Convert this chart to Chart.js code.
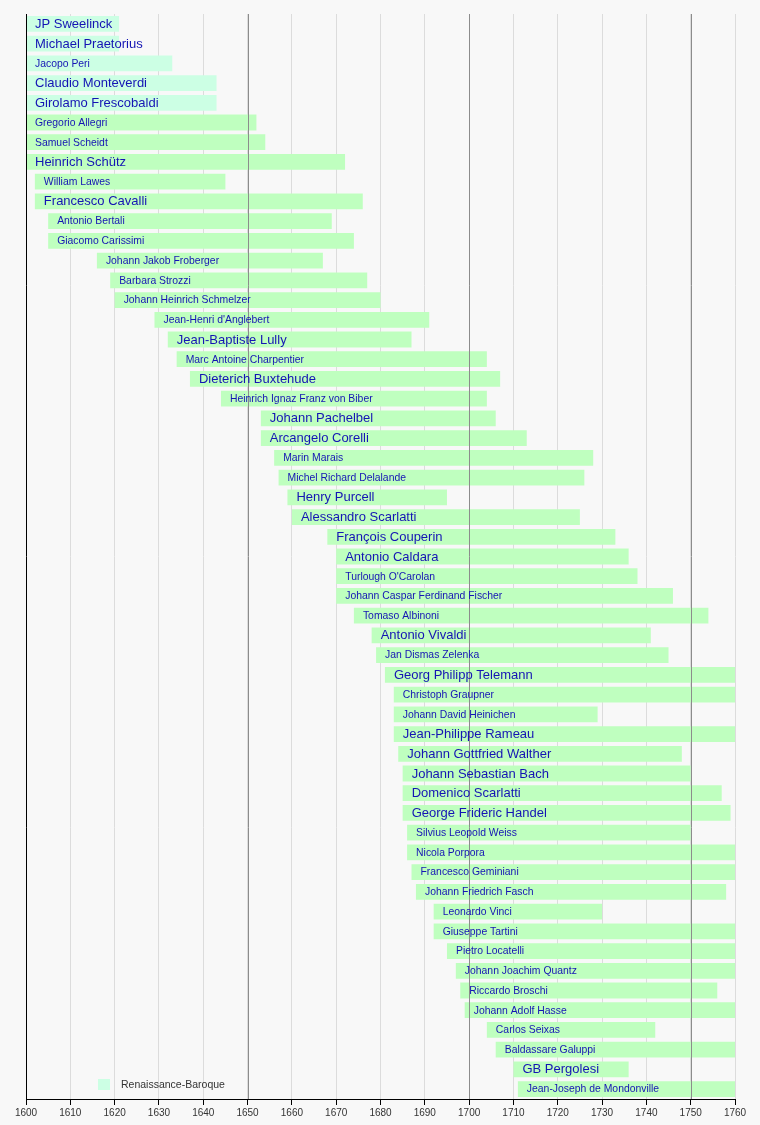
<!DOCTYPE html>
<html>
<head>
<meta charset="utf-8">
<script src="https://cdn.jsdelivr.net/npm/chart.js@4.4.1/dist/chart.umd.min.js"></script>
<style>
  html, body { margin: 0; padding: 0; background: #f8f8f8; }
  #wrap { width: 760px; height: 1125px; position: relative; }
</style>
</head>
<body>
<div id="wrap"><canvas id="c" width="760" height="1125"></canvas></div>
<script>
const composers = [
  "JP Sweelinck", "Michael Praetorius", "Jacopo Peri", "Claudio Monteverdi", "Girolamo Frescobaldi",
  "Gregorio Allegri", "Samuel Scheidt", "Heinrich Schütz", "William Lawes", "Francesco Cavalli",
  "Antonio Bertali", "Giacomo Carissimi", "Johann Jakob Froberger", "Barbara Strozzi", "Johann Heinrich Schmelzer",
  "Jean-Henri d'Anglebert", "Jean-Baptiste Lully", "Marc Antoine Charpentier", "Dieterich Buxtehude", "Heinrich Ignaz Franz von Biber",
  "Johann Pachelbel", "Arcangelo Corelli", "Marin Marais", "Michel Richard Delalande", "Henry Purcell",
  "Alessandro Scarlatti", "François Couperin", "Antonio Caldara", "Turlough O'Carolan", "Johann Caspar Ferdinand Fischer",
  "Tomaso Albinoni", "Antonio Vivaldi", "Jan Dismas Zelenka", "Georg Philipp Telemann", "Christoph Graupner",
  "Johann David Heinichen", "Jean-Philippe Rameau", "Johann Gottfried Walther", "Johann Sebastian Bach", "Domenico Scarlatti",
  "George Frideric Handel", "Silvius Leopold Weiss", "Nicola Porpora", "Francesco Geminiani", "Johann Friedrich Fasch",
  "Leonardo Vinci", "Giuseppe Tartini", "Pietro Locatelli", "Johann Joachim Quantz", "Riccardo Broschi",
  "Johann Adolf Hasse", "Carlos Seixas", "Baldassare Galuppi", "GB Pergolesi", "Jean-Joseph de Mondonville"
];
const births = [
  1562, 1571, 1561, 1567, 1583,
  1582, 1587, 1585, 1602, 1602,
  1605, 1605, 1616, 1619, 1620,
  1629, 1632, 1634, 1637, 1644,
  1653, 1653, 1656, 1657, 1659,
  1660, 1668, 1670, 1670, 1670,
  1674, 1678, 1679, 1681, 1683,
  1683, 1683, 1684, 1685, 1685,
  1685, 1686, 1686, 1687, 1688,
  1692, 1692, 1695, 1697, 1698,
  1699, 1704, 1706, 1710, 1711
];
const deaths = [
  1621, 1621, 1633, 1643, 1643,
  1652, 1654, 1672, 1645, 1676,
  1669, 1674, 1667, 1677, 1680,
  1691, 1687, 1704, 1707, 1704,
  1706, 1713, 1728, 1726, 1695,
  1725, 1733, 1736, 1738, 1746,
  1754, 1741, 1745, 1767, 1760,
  1729, 1764, 1748, 1750, 1757,
  1759, 1750, 1768, 1762, 1758,
  1730, 1770, 1764, 1773, 1756,
  1783, 1742, 1785, 1736, 1772
];
const periods = composers.map((n, i) => i < 5 ? "Renaissance-Baroque" : "Baroque");
const featured = [
  "JP Sweelinck", "Michael Praetorius", "Claudio Monteverdi", "Girolamo Frescobaldi", "Heinrich Schütz",
  "Francesco Cavalli", "Jean-Baptiste Lully", "Dieterich Buxtehude", "Johann Pachelbel", "Arcangelo Corelli",
  "Henry Purcell", "Alessandro Scarlatti", "François Couperin", "Antonio Caldara", "Antonio Vivaldi",
  "Georg Philipp Telemann", "Jean-Philippe Rameau", "Johann Gottfried Walther", "Johann Sebastian Bach",
  "Domenico Scarlatti", "George Frideric Handel", "GB Pergolesi"
];
const yearMin = 1600, yearMax = 1760, yearStep = 10;
const majorYears = [1650, 1700, 1750];
const legendLabel = "Renaissance-Baroque";

const periodColors = { "Renaissance-Baroque": "#ccffe4", "Baroque": "#bfffbf" };
const FONT = "'Liberation Sans', Arial, Helvetica, sans-serif";

const overlayPlugin = {
  id: 'overlay',
  afterDatasetsDraw(chart) {
    const ctx = chart.ctx;
    const area = chart.chartArea;
    const xs = chart.scales.x;
    ctx.save();
    ctx.strokeStyle = '#8c8c8c';
    ctx.lineWidth = 1;
    majorYears.forEach(y => {
      const px = Math.round(xs.getPixelForValue(y)) + 0.5;
      ctx.beginPath();
      ctx.moveTo(px, area.top);
      ctx.lineTo(px, area.bottom);
      ctx.stroke();
    });
    ctx.strokeStyle = '#000';
    const lx = Math.round(area.left) + 0.5;
    ctx.beginPath();
    ctx.moveTo(lx, area.top);
    ctx.lineTo(lx, area.bottom);
    ctx.stroke();

    const meta = chart.getDatasetMeta(0);
    ctx.fillStyle = '#1414b4';
    ctx.textBaseline = 'middle';
    ctx.textAlign = 'left';
    meta.data.forEach((el, i) => {
      const start = Math.max(Math.min(el.base, el.x), area.left);
      const big = featured.includes(composers[i]);
      ctx.font = (big ? 13 : 10.4) + 'px ' + FONT;
      ctx.fillText(composers[i], start + 9, el.y + 0.5);
    });

    ctx.fillStyle = periodColors["Renaissance-Baroque"];
    ctx.fillRect(98, 1079, 12, 11);
    ctx.fillStyle = '#333';
    ctx.font = '10.5px ' + FONT;
    ctx.fillText(legendLabel, 121, 1085);
    ctx.restore();
  }
};

const bgPlugin = {
  id: 'bg',
  beforeDraw(chart) {
    const ctx = chart.ctx;
    ctx.save();
    ctx.fillStyle = '#f8f8f8';
    ctx.fillRect(0, 0, chart.width, chart.height);
    ctx.restore();
  }
};

new Chart(document.getElementById('c'), {
  type: 'bar',
  data: {
    labels: composers,
    datasets: [{
      data: composers.map((n, i) => [births[i], deaths[i]]),
      backgroundColor: periods.map(p => periodColors[p]),
      borderWidth: 0,
      borderSkipped: false,
      barPercentage: 0.8,
      categoryPercentage: 1.0
    }]
  },
  options: {
    indexAxis: 'y',
    responsive: false,
    animation: false,
    layout: { padding: { left: 26, right: 25, top: 14, bottom: 4 } },
    plugins: { legend: { display: false }, tooltip: { enabled: false } },
    scales: {
      x: {
        type: 'linear',
        min: yearMin,
        max: yearMax,
        position: 'bottom',
        ticks: {
          stepSize: yearStep,
          autoSkip: false,
          maxRotation: 0,
          padding: 2,
          color: '#333',
          font: { family: FONT, size: 10 },
          callback: v => String(v)
        },
        grid: {
          color: '#dcdcdc',
          tickColor: '#000',
          tickLength: 6,
          drawTicks: true
        },
        border: { display: true, color: '#000', width: 1 }
      },
      y: {
        type: 'category',
        display: false
      }
    }
  },
  plugins: [bgPlugin, overlayPlugin]
});
</script>
</body>
</html>
